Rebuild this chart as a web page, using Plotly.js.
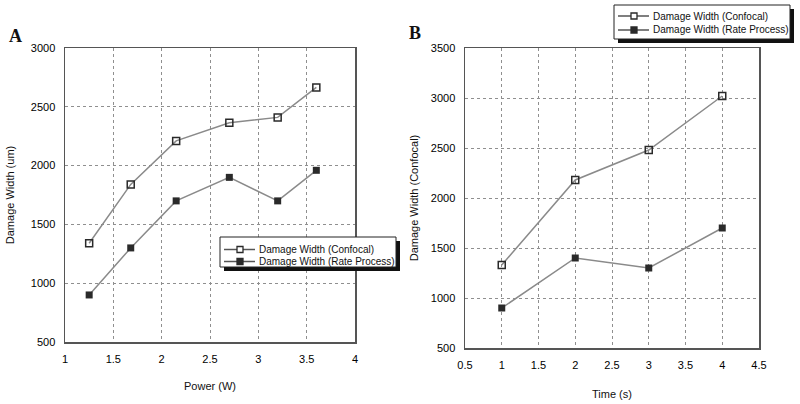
<!DOCTYPE html>
<html>
<head>
<meta charset="utf-8">
<script src="https://cdn.plot.ly/plotly-3.0.1.min.js"></script>
<style>
  html, body { margin: 0; padding: 0; background: #fff; }
  #graph { width: 800px; height: 404px; }
</style>
</head>
<body>
<div id="graph"></div>
<script>
// panel A: damage width vs laser power
const powerW = [1.25, 1.68, 2.15, 2.7, 3.2, 3.6]
const confocalA = [1340, 1840, 2210, 2365, 2410, 2665]
const rateA = [900, 1300, 1700, 1900, 1700, 1960]

// panel B: damage width vs exposure time
const timeS = [1, 2, 3, 4]
const confocalB = [1330, 2180, 2480, 3020]
const rateB = [900, 1400, 1300, 1700]

const nameConfocal = "Damage Width (Confocal)"
const nameRate = "Damage Width (Rate Process)"

window.onload = function () {
  const W = 800
  const H = 404
  const lineColor = "#8a8a8a"
  const markColor = "#2a2a2a"
  const font = "Liberation Sans, Arial, sans-serif"

  const lineStyle = { color: lineColor, width: 1.5 }
  const openMarker = { symbol: "square-open", size: 7, color: markColor, line: { width: 1.5, color: markColor } }
  const fullMarker = { symbol: "square", size: 7, color: markColor, line: { width: 0 } }

  const data = [
    { x: powerW, y: confocalA, mode: "lines+markers", name: nameConfocal, line: lineStyle, marker: openMarker, xaxis: "x", yaxis: "y" },
    { x: powerW, y: rateA, mode: "lines+markers", name: nameRate, line: lineStyle, marker: fullMarker, xaxis: "x", yaxis: "y" },
    { x: timeS, y: confocalB, mode: "lines+markers", name: nameConfocal, line: lineStyle, marker: openMarker, xaxis: "x2", yaxis: "y2" },
    { x: timeS, y: rateB, mode: "lines+markers", name: nameRate, line: lineStyle, marker: fullMarker, xaxis: "x2", yaxis: "y2" },
  ]

  const tickFont = { family: font, size: 11, color: "#000" }
  const titleFont = { family: font, size: 11, color: "#111" }

  function axis(extra) {
    return Object.assign({
      showline: true, linecolor: "#555", linewidth: 1.5, mirror: true,
      showgrid: true, gridcolor: "#8f8f8f", griddash: "dot", gridwidth: 1,
      zeroline: false, ticks: "outside", ticklen: 6, tickcolor: "rgba(0,0,0,0)",
      tickfont: tickFont, fixedrange: true,
    }, extra)
  }

  // hand-drawn legend boxes (pixel positions -> paper coords)
  const shapes = []
  const annotations = []
  const px = (x) => x / W
  const py = (y) => 1 - y / H

  function legendBox(x0, y0, x1, y1, rows) {
    shapes.push({ type: "rect", xref: "paper", yref: "paper", layer: "above",
      x0: px(x0 + 4), x1: px(x1 + 4), y0: py(y1 + 4), y1: py(y0 + 4), fillcolor: "#111", line: { width: 0 } })
    shapes.push({ type: "rect", xref: "paper", yref: "paper", layer: "above",
      x0: px(x0), x1: px(x1), y0: py(y1), y1: py(y0), fillcolor: "#fff", line: { width: 1, color: "#222" } })
    rows.forEach(function (r) {
      shapes.push({ type: "line", xref: "paper", yref: "paper", layer: "above",
        x0: px(x0 + 4), x1: px(x0 + 35), y0: py(r.y), y1: py(r.y), line: { width: 1.5, color: "#555" } })
      shapes.push({ type: "rect", xref: "paper", yref: "paper", layer: "above",
        x0: px(x0 + 17), x1: px(x0 + 23), y0: py(r.y + 3), y1: py(r.y - 3),
        fillcolor: r.open ? "#fff" : markColor, line: { width: 1.3, color: markColor } })
      annotations.push({ text: r.name, xref: "paper", yref: "paper", x: px(x0 + 37), y: py(r.y),
        xanchor: "left", yanchor: "middle", showarrow: false, font: { family: font, size: 10, color: "#111" } })
    })
  }

  legendBox(220, 237, 396, 267, [
    { y: 249.5, name: nameConfocal, open: true },
    { y: 261.5, name: nameRate, open: false },
  ])
  legendBox(614, 5, 790, 39, [
    { y: 16, name: nameConfocal, open: true },
    { y: 30, name: nameRate, open: false },
  ])

  annotations.push({ text: "<b>A</b>", xref: "paper", yref: "paper", x: px(7), y: py(24), xanchor: "left", yanchor: "top",
    showarrow: false, font: { family: "Liberation Serif, Times New Roman, serif", size: 18, color: "#111" } })
  annotations.push({ text: "<b>B</b>", xref: "paper", yref: "paper", x: px(407), y: py(21), xanchor: "left", yanchor: "top",
    showarrow: false, font: { family: "Liberation Serif, Times New Roman, serif", size: 18, color: "#111" } })

  const layout = {
    width: W, height: H,
    margin: { l: 0, r: 0, t: 0, b: 0 },
    paper_bgcolor: "#fff", plot_bgcolor: "#fff",
    showlegend: false,
    xaxis: axis({ domain: [65 / W, 355 / W], range: [1, 4], dtick: 0.5, anchor: "y",
      title: { text: "Power (W)", font: titleFont, standoff: 18 } }),
    yaxis: axis({ domain: [62 / H, 356 / H], range: [500, 3000], dtick: 500, anchor: "x",
      title: { text: "Damage Width (um)", font: titleFont, standoff: 14 } }),
    xaxis2: axis({ domain: [465 / W, 759 / W], range: [0.5, 4.5], dtick: 0.5, anchor: "y2",
      title: { text: "Time (s)", font: titleFont, standoff: 20 } }),
    yaxis2: axis({ domain: [56 / H, 356 / H], range: [500, 3500], dtick: 500, anchor: "x2",
      title: { text: "Damage Width (Confocal)", font: titleFont, standoff: 10 } }),
    annotations: annotations,
    shapes: shapes,
  }

  Plotly.newPlot("graph", data, layout, { staticPlot: true })
}
</script>
</body>
</html>
